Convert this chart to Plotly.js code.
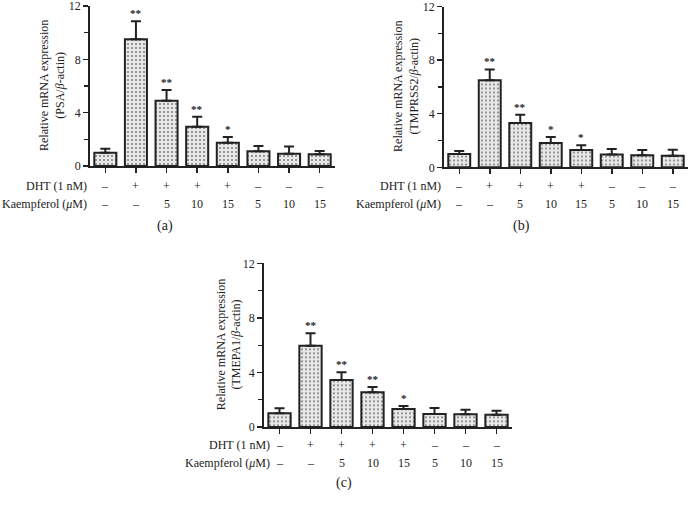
<!DOCTYPE html>
<html>
<head>
<meta charset="utf-8">
<script src="https://cdn.plot.ly/plotly-3.0.1.min.js"></script>
<style>html,body{margin:0;padding:0;background:#fff;}#chart{width:691px;height:519px;}</style>
</head>
<body>
<div id="chart"></div>
<script>
// ---- data ----
const groups = [0, 1, 2, 3, 4, 5, 6, 7];
const dhtRow = ["–", "+", "+", "+", "+", "–", "–", "–"];
const kaempRow = ["–", "–", "5", "10", "15", "5", "10", "15"];

const psaMean = [1.0, 9.5, 4.9, 2.95, 1.75, 1.1, 0.92, 0.88];
const psaErr = [0.3, 1.35, 0.8, 0.75, 0.42, 0.4, 0.55, 0.25];
const psaSig = ["", "**", "**", "**", "*", "", "", ""];

const tmprssMean = [1.0, 6.5, 3.3, 1.82, 1.3, 0.95, 0.9, 0.86];
const tmprssErr = [0.22, 0.8, 0.62, 0.44, 0.35, 0.42, 0.4, 0.45];
const tmprssSig = ["", "**", "**", "*", "*", "", "", ""];

const tmepaMean = [1.0, 5.96, 3.45, 2.54, 1.32, 0.95, 0.93, 0.9];
const tmepaErr = [0.37, 0.92, 0.56, 0.4, 0.22, 0.44, 0.34, 0.3];
const tmepaSig = ["", "**", "**", "**", "*", "", "", ""];

const yTitles = [
  "Relative mRNA expression<br>(PSA/<i>β</i>-actin)",
  "Relative mRNA expression<br>(TMPRSS2/<i>β</i>-actin)",
  "Relative mRNA expression<br>(TMEPA1/<i>β</i>-actin)"
];
const panelLabels = ["(a)", "(b)", "(c)"];

// ---- layout geometry ----
const W = 691, H = 519;
const SERIF = "Liberation Serif, Times New Roman, serif";
const ink = "#222";
const panels = [
  {mean: psaMean, err: psaErr, sig: psaSig, xd: [90, 335], yd: [166, 6], titleX: 52, rowLabelX: 89, dhtY: 186, kY: 204, labX: 165, labY: 226},
  {mean: tmprssMean, err: tmprssErr, sig: tmprssSig, xd: [444, 688], yd: [167.3, 6.5], titleX: 406, rowLabelX: 443, dhtY: 186, kY: 204, labX: 521, labY: 226},
  {mean: tmepaMean, err: tmepaErr, sig: tmepaSig, xd: [264, 512], yd: [427, 263.3], titleX: 229, rowLabelX: 272, dhtY: 445, kY: 463, labX: 344, labY: 483}
];

const traces = [];
const layout = {
  width: W, height: H,
  margin: {l: 0, r: 0, t: 0, b: 0},
  paper_bgcolor: "#fff", plot_bgcolor: "rgba(0,0,0,0)",
  showlegend: false,
  font: {family: SERIF, size: 12, color: ink},
  annotations: []
};

panels.forEach((p, i) => {
  const n = i + 1;
  const xa = n === 1 ? "x" : "x" + n;
  const ya = n === 1 ? "y" : "y" + n;
  const xKey = n === 1 ? "xaxis" : "xaxis" + n;
  const yKey = n === 1 ? "yaxis" : "yaxis" + n;

  traces.push({
    type: "bar", x: groups, y: p.mean, xaxis: xa, yaxis: ya, width: 0.72,
    marker: {
      color: "#e8e8e8",
      line: {color: ink, width: 2},
      pattern: {shape: ".", fgcolor: "#7a7a7a", bgcolor: "#e8e8e8", size: 4, solidity: 0.2}
    },
    error_y: {type: "data", symmetric: false, array: p.err, arrayminus: p.err.map(() => 0),
              color: ink, thickness: 2, width: 5},
    hoverinfo: "skip"
  });

  layout[xKey] = {
    domain: [p.xd[0] / W, p.xd[1] / W], anchor: ya, range: [-0.5, 7.5],
    showline: true, linecolor: ink, linewidth: 1.8, showgrid: false, zeroline: false,
    tickmode: "array", tickvals: groups, ticktext: groups.map(() => ""),
    ticks: "outside", ticklen: 5, tickwidth: 1.5, tickcolor: ink, fixedrange: true
  };
  layout[yKey] = {
    domain: [1 - p.yd[0] / H, 1 - p.yd[1] / H], anchor: xa, range: [0, 12],
    showline: true, linecolor: ink, linewidth: 1.8, showgrid: false, zeroline: false,
    tickmode: "array", tickvals: [0, 4, 8, 12],
    ticks: "outside", ticklen: 5, tickwidth: 1.5, tickcolor: ink,
    ticklabeloverflow: "allow",
    tickfont: {family: SERIF, size: 12, color: ink},
    minor: {tickvals: [2, 6, 10], ticks: "outside", ticklen: 4, tickwidth: 1.2, tickcolor: ink, showgrid: false},
    fixedrange: true
  };

  // significance marks
  groups.forEach((g, k) => {
    if (!p.sig[k]) return;
    layout.annotations.push({
      xref: xa, yref: ya, x: g, y: p.mean[k] + p.err[k], text: "<b>" + p.sig[k] + "</b>",
      showarrow: false, xanchor: "center", yanchor: "bottom", yshift: 0,
      font: {family: SERIF, size: 11, color: ink}
    });
  });

  // y title
  layout.annotations.push({
    xref: "paper", yref: "paper", x: p.titleX / W, y: 1 - (p.yd[0] + p.yd[1]) / 2 / H,
    text: yTitles[i], textangle: -90, showarrow: false, xanchor: "center", yanchor: "middle",
    font: {family: SERIF, size: 12, color: ink}
  });
  // table rows
  layout.annotations.push({
    xref: "paper", yref: "paper", x: p.rowLabelX / W, y: 1 - p.dhtY / H, text: "DHT (1 nM)",
    showarrow: false, xanchor: "right", yanchor: "middle", font: {family: SERIF, size: 12, color: ink}
  });
  layout.annotations.push({
    xref: "paper", yref: "paper", x: p.rowLabelX / W, y: 1 - p.kY / H, text: "Kaempferol (<i>μ</i>M)",
    showarrow: false, xanchor: "right", yanchor: "middle", font: {family: SERIF, size: 12, color: ink}
  });
  groups.forEach((g, k) => {
    layout.annotations.push({
      xref: xa, yref: "paper", x: g, y: 1 - p.dhtY / H, text: dhtRow[k],
      showarrow: false, xanchor: "center", yanchor: "middle", font: {family: SERIF, size: 12, color: ink}
    });
    layout.annotations.push({
      xref: xa, yref: "paper", x: g, y: 1 - p.kY / H, text: kaempRow[k],
      showarrow: false, xanchor: "center", yanchor: "middle", font: {family: SERIF, size: 12, color: ink}
    });
  });
  // panel label
  layout.annotations.push({
    xref: "paper", yref: "paper", x: p.labX / W, y: 1 - p.labY / H, text: panelLabels[i],
    showarrow: false, xanchor: "center", yanchor: "middle", font: {family: SERIF, size: 14, color: ink}
  });
});

Plotly.newPlot("chart", traces, layout, {staticPlot: true, displayModeBar: false});
</script>
</body>
</html>
